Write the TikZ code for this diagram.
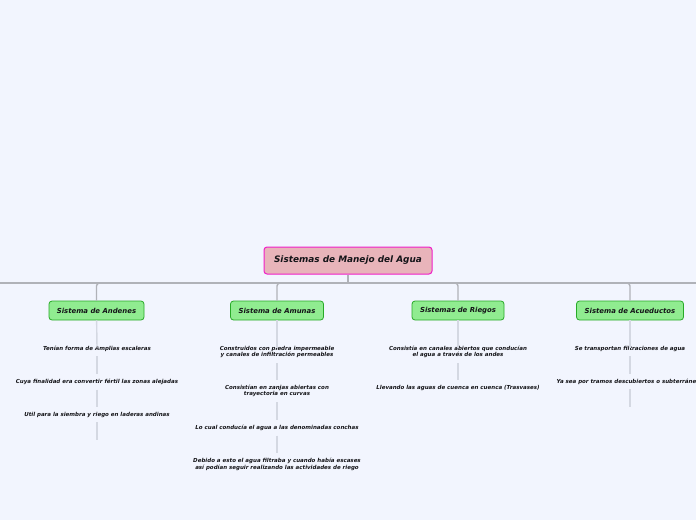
\documentclass[tikz,border=0pt]{standalone}
\usepackage{fontspec}
\setmainfont{DejaVu Sans}
\usepackage{xcolor}
\usepackage{tikz}

\definecolor{paper}{RGB}{242,245,254}
\definecolor{rootfill}{RGB}{232,180,186}
\definecolor{rootline}{RGB}{240,30,200}
\definecolor{boxfill}{RGB}{144,236,144}
\definecolor{boxline}{RGB}{40,170,40}
\definecolor{treeline}{RGB}{176,178,184}
\definecolor{leafline}{RGB}{212,216,226}
\definecolor{ink}{RGB}{20,20,24}

\begin{document}
\begin{tikzpicture}[x=1pt, y=-1pt,
    every node/.style={text=ink, font=\bfseries\itshape},
    rootbox/.style={draw=rootline, fill=rootfill, line width=1pt, rounded corners=3pt, minimum height=27pt, font=\fontsize{8.9}{10.6}\selectfont\bfseries\itshape},
    sysbox/.style={draw=boxline, fill=boxfill, line width=0.8pt, rounded corners=3pt, minimum height=19pt, font=\fontsize{6.9}{8.2}\selectfont\bfseries\itshape},
    idea/.style={align=center, inner sep=1pt, font=\fontsize{5.5}{6.6}\selectfont\bfseries\itshape},
    tree/.style={draw=treeline, line width=1.4pt},
    leaf/.style={draw=leafline, line width=1.4pt}]
    % Background
    \fill[paper] (0,0) rectangle (696,520);
    \useasboundingbox (0,0) rectangle (696,520);

    % Main topic
    \node[rootbox, minimum width=168pt] (root) at (348,260.5) {Sistemas de Manejo del Agua};

    % Systems
    \node[sysbox, minimum width=95pt] (andenes) at (96.5,310.5) {Sistema de Andenes};
    \node[sysbox, minimum width=93pt] (amunas) at (277,310.5) {Sistema de Amunas};
    \node[sysbox, minimum width=92pt] (riegos) at (458,310.5) {Sistemas de Riegos};
    \node[sysbox, minimum width=107pt] (acueductos) at (630,310.5) {Sistema de Acueductos};

    % Bus line
    \coordinate (bus) at (348,283);
    \coordinate (busL) at (0,283);
    \coordinate (busR) at (696,283);
    \draw[tree] (busL) -- (busR);
    \draw[tree] (root.south) -- (bus);
    \foreach \s in {andenes, amunas, riegos, acueductos}
        \draw[tree, rounded corners=3pt] (bus) -| (\s.north);

    % Andenes
    \node[idea] (and1) at (97,348.5) {Tenían forma de Amplias escaleras};
    \node[idea] (and2) at (97,381.5) {Cuya finalidad era convertir fértil las zonas alejadas};
    \node[idea] (and3) at (97,414.5) {Util para la siembra y riego en laderas andinas};
    \coordinate (and4) at (97,440);
    \draw[leaf] (andenes) -- ([yshift=-3pt]and1.north);
    \draw[leaf, shorten <=4pt, shorten >=4pt] (and1) -- (and2);
    \draw[leaf, shorten <=4pt, shorten >=4pt] (and2) -- (and3);
    \draw[leaf, shorten <=4pt] (and3) -- (and4);

    % Amunas
    \node[idea] (amu1) at (277,352) {Construidos con piedra impermeable\\y canales de infiltración permeables};
    \node[idea] (amu2) at (277,391) {Consistían en zanjas abiertas con\\trayectoria en curvas};
    \node[idea] (amu3) at (277,427.5) {Lo cual conducía el agua a las denominadas conchas};
    \node[idea] (amu4) at (277,464.5) {Debido a esto el agua filtraba y cuando había escases\\así podían seguir realizando las actividades de riego};
    \draw[leaf] (amunas) -- ([yshift=-3pt]amu1.north);
    \draw[leaf, shorten <=4pt, shorten >=4pt] (amu1) -- (amu2);
    \draw[leaf, shorten <=4pt, shorten >=4pt] (amu2) -- (amu3);
    \draw[leaf, shorten <=4pt, shorten >=4pt] (amu3) -- (amu4);

    % Riegos
    \node[idea] (rie1) at (458,352) {Consistía en canales abiertos que conducían\\el agua a través de los andes};
    \node[idea] (rie2) at (458,387.5) {Llevando las aguas de cuenca en cuenca (Trasvases)};
    \draw[leaf] (riegos) -- ([yshift=-3pt]rie1.north);
    \draw[leaf, shorten <=4pt, shorten >=4pt] (rie1) -- (rie2);

    % Acueductos
    \node[idea] (acu1) at (630,348.5) {Se transportan filtraciones de agua};
    \node[idea] (acu2) at (630,381.5) {Ya sea por tramos descubiertos o subterráneos};
    \coordinate (acu3) at (630,407);
    \draw[leaf] (acueductos) -- ([yshift=-3pt]acu1.north);
    \draw[leaf, shorten <=4pt, shorten >=4pt] (acu1) -- (acu2);
    \draw[leaf, shorten <=4pt] (acu2) -- (acu3);
\end{tikzpicture}
\end{document}
